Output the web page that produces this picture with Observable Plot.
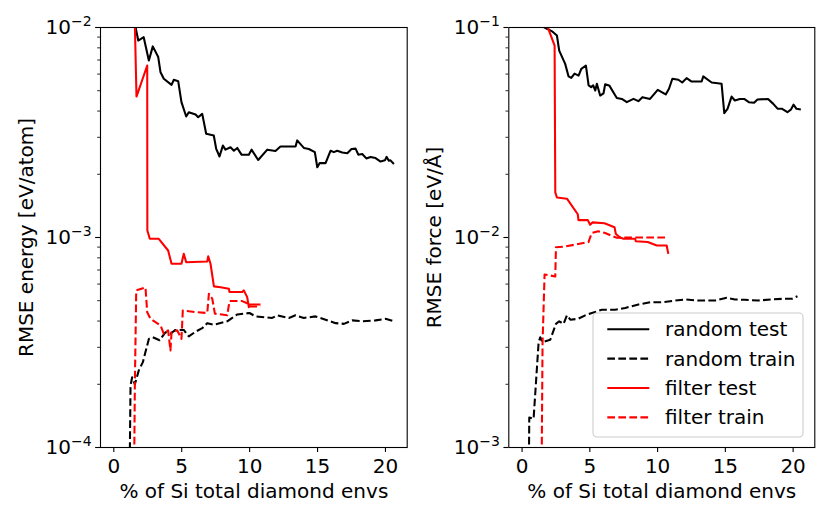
<!DOCTYPE html>
<html><head><meta charset="utf-8">
<script src="https://cdn.jsdelivr.net/npm/d3@7"></script>
<script src="https://cdn.jsdelivr.net/npm/@observablehq/plot@0.6"></script>
<style>
body{margin:0;background:#fff;}
#chart{position:relative;width:830px;height:519px;font-family:"DejaVu Sans";background:#fff;}
#chart > div{position:absolute;top:0;}
</style></head><body>
<div id="chart"><div id="left" style="left:0px"></div><div id="right" style="left:415px"></div></div>
<script>
// ---------- data (x: % of Si total diamond envs) ----------
const xTicks = [0, 5, 10, 15, 20];
const xLabel = "% of Si total diamond envs";
const seriesNames = ["random test", "random train", "filter test", "filter train"];

// Energy panel
const eRandTestX = [1.5,1.8,2.2,2.58,2.87,3.27,3.44,3.68,4.25,4.42,4.74,4.98,5.33,5.52,6.02,6.21,6.51,6.8,7.36,7.54,7.78,8.03,8.22,8.59,8.84,9.09,9.4,9.94,10.14,10.63,11.3,11.9,12.27,13.38,13.5,13.99,14.36,14.8,14.98,15.15,15.59,15.96,16.2,16.45,16.82,17.19,17.5,17.8,18.0,18.29,18.59,18.9,19.27,19.64,19.96,20.08,20.25,20.37,20.62];
const eRandTestY = [0.0108,0.00867,0.00899,0.00697,0.00813,0.00723,0.00612,0.00570,0.00533,0.00564,0.00555,0.00441,0.00377,0.00395,0.00385,0.00374,0.00388,0.00312,0.00306,0.00264,0.00243,0.00274,0.00262,0.00269,0.00259,0.00267,0.00248,0.00248,0.00262,0.00234,0.00262,0.00258,0.00271,0.00271,0.00290,0.00267,0.00264,0.00255,0.00216,0.00226,0.00226,0.00259,0.00255,0.00259,0.00254,0.00252,0.00264,0.00265,0.00248,0.00250,0.00238,0.00242,0.00239,0.00230,0.00233,0.00242,0.00232,0.00233,0.00224];
const eRandTrainX = [1.15,1.23,1.35,1.55,1.84,2.14,2.58,2.87,3.37,3.81,4.17,4.54,5.15,5.52,6.02,6.51,6.88,7.36,8.35,8.72,9.09,9.99,10.43,11.66,12.03,12.89,13.38,13.99,14.85,15.59,16.33,16.94,17.55,18.29,19.27,20.0,20.62];
const eRandTrainY = [0.00006,0.000197,0.000216,0.000200,0.000233,0.000255,0.000329,0.000335,0.000324,0.000354,0.000348,0.000363,0.000363,0.000338,0.000356,0.000370,0.000391,0.000384,0.000399,0.000414,0.000430,0.000437,0.000421,0.000414,0.000426,0.000414,0.000426,0.000414,0.000421,0.000406,0.000391,0.000388,0.000403,0.000399,0.000403,0.000410,0.000399];
const eFiltTestX = [1.52,1.67,2.46,2.47,2.65,3.31,4.0,4.25,4.98,5.15,5.33,6.88,6.95,7.12,7.37,7.86,8.47,8.52,9.45,9.57,9.82,9.94,9.99,10.8];
const eFiltTestY = [0.0125,0.00469,0.00659,0.00108,0.000986,0.000986,0.000867,0.000750,0.000750,0.000836,0.000762,0.000769,0.000813,0.000750,0.000585,0.000579,0.000570,0.000550,0.000550,0.000560,0.000520,0.000466,0.000480,0.000480];
const eFiltTrainX = [1.47,1.55,1.65,2.33,2.46,2.7,3.44,3.68,4.0,4.17,4.25,4.67,4.98,5.08,6.02,6.88,7.0,7.25,7.44,8.35,8.52,9.45,9.82,9.94,10.8];
const eFiltTrainY = [0.00005,0.000201,0.000560,0.000579,0.000441,0.000410,0.000381,0.000348,0.000361,0.000290,0.000354,0.000361,0.000329,0.000449,0.000441,0.000437,0.000540,0.000511,0.000434,0.000426,0.000498,0.000498,0.000486,0.000469,0.000469];

// Force panel
const fRandTestX = [1.4,1.84,2.21,2.57,2.74,3.18,3.43,3.63,3.87,4.17,4.37,4.71,4.91,5.10,5.25,5.40,5.52,5.76,6.01,6.13,6.43,6.99,7.36,7.73,8.22,8.58,8.88,9.44,10.01,10.6,10.84,11.09,11.53,11.82,12.14,12.51,13.25,13.37,13.99,14.72,14.92,15.16,15.46,15.7,16.07,16.39,16.73,17.12,17.37,18.15,18.52,18.85,19.19,19.58,19.83,20.03,20.25,20.57];
const fRandTestY = [0.102,0.0986,0.0959,0.0916,0.0776,0.0671,0.0585,0.0575,0.0603,0.0590,0.0635,0.0659,0.0530,0.0520,0.0530,0.0501,0.0540,0.0474,0.0486,0.0536,0.0530,0.0462,0.0457,0.0441,0.0457,0.0446,0.0466,0.0457,0.0505,0.0480,0.0511,0.0570,0.0564,0.0547,0.0574,0.0553,0.0553,0.0585,0.0547,0.0540,0.0391,0.0410,0.0469,0.0449,0.0457,0.0457,0.0441,0.0438,0.0454,0.0457,0.0434,0.0411,0.0410,0.0395,0.0406,0.0429,0.0410,0.0407];
const fRandTrainX = [0.48,0.53,0.85,1.22,1.34,1.51,2.08,2.50,2.74,3.06,3.31,3.56,4.12,4.66,5.15,5.89,6.87,7.61,8.59,9.45,10.43,11.29,12.03,13.01,14.24,15.10,15.71,16.44,17.42,18.40,19.38,19.92,20.32];
const fRandTrainY = [0.0005,0.00139,0.00137,0.00317,0.00335,0.00317,0.00326,0.00388,0.00399,0.00388,0.00426,0.00406,0.00410,0.00426,0.00437,0.00453,0.00453,0.00462,0.00480,0.00492,0.00492,0.00501,0.00507,0.00501,0.00501,0.00516,0.00507,0.00505,0.00501,0.00507,0.00511,0.00511,0.00525];
const fFiltTestX = [1.85,2.40,2.45,2.57,3.31,4.11,4.16,4.85,5.02,5.19,6.08,6.82,6.92,7.23,7.48,8.34,8.39,9.27,9.94,10.67,10.79];
const fFiltTestY = [0.102,0.0820,0.0164,0.0155,0.0153,0.0129,0.0121,0.0121,0.0115,0.0118,0.0117,0.0112,0.0104,0.0100,0.00986,0.00986,0.00959,0.00951,0.00916,0.00916,0.00836];
const fFiltTrainX = [1.42,1.51,1.66,2.45,2.50,3.18,4.90,5.14,5.63,6.13,6.74,6.99,8.34,10.67];
const fFiltTrainY = [0.0005,0.00312,0.00667,0.00652,0.00899,0.00906,0.00951,0.0105,0.0107,0.0105,0.0101,0.00998,0.0100,0.0100];

// ---------- styling ----------
const FS = 20;
const LW = 2.08;
const DASH = "7.7,3.33";
const xDomain = [-0.98, 21.6];
const styles = {
  "random test": {stroke: "#000000", dash: null},
  "random train": {stroke: "#000000", dash: DASH},
  "filter test": {stroke: "#ff0000", dash: null},
  "filter train": {stroke: "#ff0000", dash: DASH}
};
function minorTicks(lo, hi) {
  const out = [];
  for (let k = lo; k < hi; k++) for (let m = 2; m <= 9; m++) out.push(m * Math.pow(10, k));
  return out;
}
function toRows(xs, ys) { return xs.map((x, i) => ({x, y: ys[i]})); }

function panel({series, yDomain, lo, hi, ylabel, width, ml, mr}) {
  const majors = d3.range(lo, hi + 1).map(k => Math.pow(10, k));
  const lines = series.map(([name, xs, ys]) => Plot.line(toRows(xs, ys), {
    x: "x", y: "y", stroke: styles[name].stroke, strokeWidth: LW,
    strokeDasharray: styles[name].dash, clip: true, strokeLinejoin: "round", strokeLinecap: "butt"
  }));
  const svg = Plot.plot({
    width, height: 519, marginLeft: ml, marginRight: mr, marginTop: 27, marginBottom: 72,
    style: {fontFamily: "DejaVu Sans", fontSize: FS + "px", background: "white", color: "black", overflow: "visible"},
    x: {domain: xDomain},
    y: {type: "log", domain: yDomain},
    marks: [
      ...lines,
      Plot.axisX({ticks: xTicks, tickSize: 4.9, tickPadding: 6, tickFormat: d => String(d), strokeWidth: 1.1,
        label: xLabel, labelAnchor: "center", labelArrow: "none", labelOffset: 50, fontSize: FS}),
      Plot.axisY({ticks: minorTicks(lo, hi), tickSize: 2.8, strokeWidth: 0.85, tickFormat: () => "", label: null}),
      Plot.axisY({ticks: majors, tickSize: 4.9, tickPadding: 4, strokeWidth: 1.1,
        tickFormat: d => "10^" + Math.round(Math.log10(d)),
        label: ylabel, labelAnchor: "center", labelArrow: "none", labelOffset: 82, fontSize: FS}),
      Plot.frame({stroke: "black", strokeWidth: 1.1})
    ]
  });
  // render powers of ten as superscripts
  svg.querySelectorAll("text").forEach(t => {
    const s = t.textContent;
    if (/^10\^/.test(s)) {
      const e = s.slice(3).replace("-", "\u2212");
      t.textContent = "10";
      const ts = document.createElementNS("http://www.w3.org/2000/svg", "tspan");
      ts.setAttribute("dy", "-0.55em");
      ts.setAttribute("font-size", "0.7em");
      ts.textContent = e;
      t.appendChild(ts);
    }
  });
  return svg;
}

const leftSvg = panel({
  series: [["random test", eRandTestX, eRandTestY], ["random train", eRandTrainX, eRandTrainY],
           ["filter test", eFiltTestX, eFiltTestY], ["filter train", eFiltTrainX, eFiltTrainY]],
  yDomain: [1e-4, 1e-2], lo: -4, hi: -2, ylabel: "RMSE energy [eV/atom]", width: 415, ml: 100, mr: 8.3
});
const rightSvg = panel({
  series: [["random test", fRandTestX, fRandTestY], ["random train", fRandTrainX, fRandTrainY],
           ["filter test", fFiltTestX, fFiltTestY], ["filter train", fFiltTrainX, fFiltTrainY]],
  yDomain: [1e-3, 1e-1], lo: -3, hi: -1, ylabel: "RMSE force [eV/Å]", width: 415, ml: 93.3, mr: 15.7
});
document.getElementById("left").appendChild(leftSvg);
document.getElementById("right").appendChild(rightSvg);

// legend (right panel)
const g = d3.select(rightSvg).append("g").attr("font-family", "DejaVu Sans").attr("font-size", FS)
  .attr("text-anchor", "start");
g.append("rect").attr("x", 178).attr("y", 313).attr("width", 210).attr("height", 124)
  .attr("rx", 4).attr("fill", "white").attr("fill-opacity", 0.8).attr("stroke", "#cccccc").attr("stroke-width", 1.1);
seriesNames.forEach((name, i) => {
  const y = 329.3 + i * 29.35;
  g.append("line").attr("x1", 192.3).attr("x2", 234.3).attr("y1", y).attr("y2", y)
    .attr("stroke", styles[name].stroke).attr("stroke-width", LW)
    .attr("stroke-dasharray", styles[name].dash);
  g.append("text").attr("x", 250).attr("y", y).attr("dy", "0.35em").attr("text-anchor", "start")
    .attr("fill", "black").text(name);
});
</script>
</body></html>
